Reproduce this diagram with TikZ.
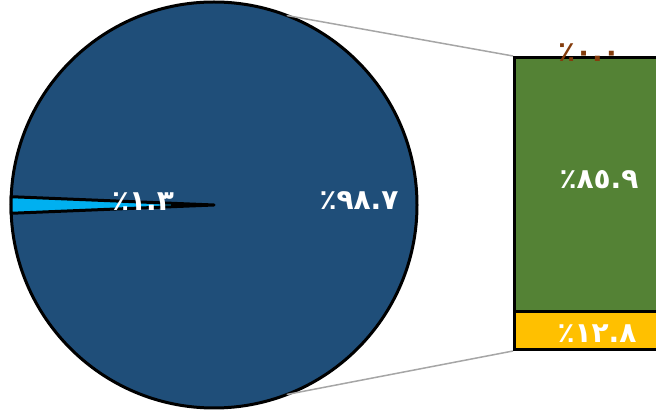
\documentclass[tikz,border=0pt]{standalone}
\usepackage{fontspec}
\usetikzlibrary{calc}
\newfontfamily\arabicfont[Script=Arabic]{DejaVu Sans}
\TeXXeTstate=1
\definecolor{pieblue}{RGB}{31,78,121}
\definecolor{slicecyan}{RGB}{0,176,240}
\definecolor{bargreen}{RGB}{84,130,53}
\definecolor{baryellow}{RGB}{255,192,0}
\definecolor{labelbrown}{RGB}{132,60,12}
\definecolor{linegray}{RGB}{166,166,166}
\tikzset{
  pct/.style={font=\arabicfont\bfseries\fontsize{28}{32}\selectfont, text=white, inner sep=0pt},
  barpart/.style={draw=black, line width=3pt, anchor=south west, inner sep=0pt, minimum width=200pt},
}
\begin{document}
\begin{tikzpicture}[x=1pt, y=1pt]
    \useasboundingbox (0,0) rectangle (656,412);
    \clip (0,0) rectangle (656,412);

    % Dibujar el circulo principal
    \coordinate (centro) at (214,207);
    \fill[pieblue] (centro) circle (203);
    \draw[line width=3pt] (centro) circle (203);

    % Dibujar la porcion pequena
    \filldraw[fill=slicecyan, draw=black, line width=3pt, line join=round]
        (centro) -- ++(177.66:203) arc[start angle=177.66, end angle=182.34, radius=203] -- cycle;

    % Dibujar la barra
    \node[barpart, fill=baryellow, minimum height=38pt] (amarillo) at (513,61) {};
    \node[barpart, fill=bargreen, minimum height=254pt] (verde) at (513,99) {};

    % Lineas de union
    \coordinate (arriba) at ($(centro)+(69:203)$);
    \coordinate (abajo) at ($(centro)+(-69:203)$);
    \draw[linegray, line width=1.5pt] (arriba) -- (verde.north west);
    \draw[linegray, line width=1.5pt] (abajo) -- (amarillo.south west);

    % Etiquetas
    \node[pct] (grande) at (359,211) {\beginR ٩٨.٧٪\endR};
    \node[pct] (chico) at (143,210) {\beginR ١.٣٪\endR};
    \node[pct] (verdeval) at (599,232) {\beginR ٨٥.٩٪\endR};
    \node[pct] (amarilloval) at (597,78) {\beginR ١٢.٨٪\endR};
    \node[pct, text=labelbrown] (cero) at (589,359) {\beginR ٠.٠٪\endR};

\end{tikzpicture}
\end{document}
